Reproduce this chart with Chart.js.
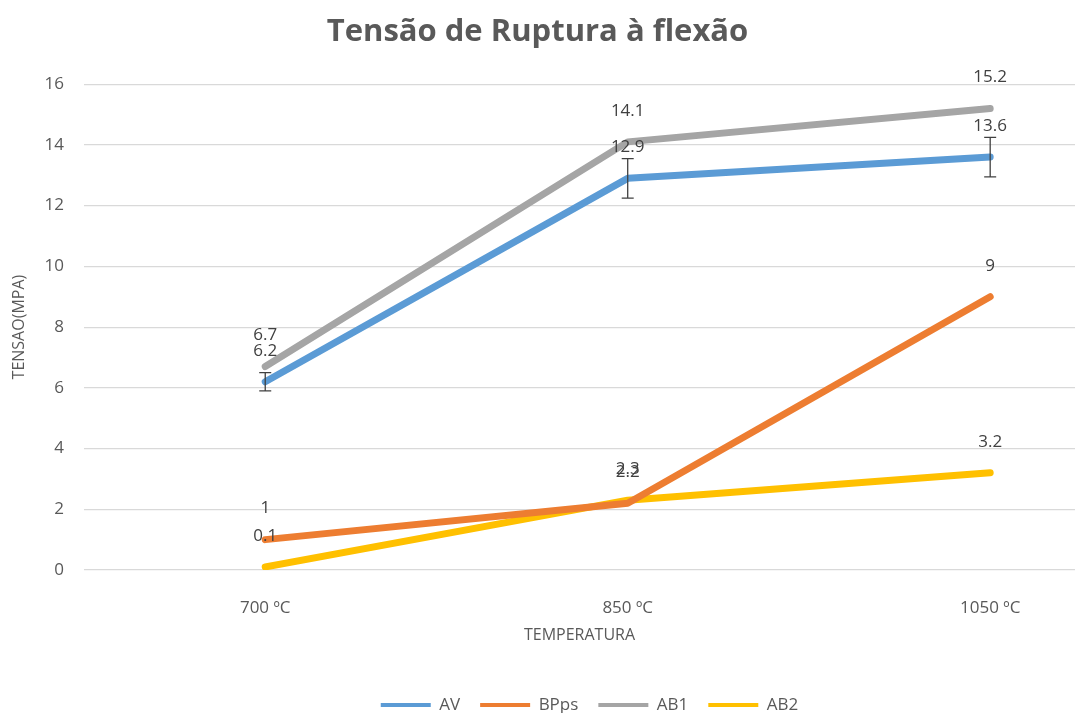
<!DOCTYPE html>
<html>
<head>
<meta charset="utf-8">
<script src="https://cdn.jsdelivr.net/npm/chart.js@4/dist/chart.umd.min.js"></script>
<style>
html,body{margin:0;padding:0;background:#fff;}
#wrap{width:1075px;height:713px;}
</style>
</head>
<body>
<div id="wrap"><canvas id="c" width="1075" height="713"></canvas></div>
<script>
const categories = ["700 ºC", "850 ºC", "1050 ºC"];
const seriesNames = ["AV", "BPps", "AB1", "AB2"];
const avValues = [6.2, 12.9, 13.6];
const bppsValues = [1, 2.2, 9];
const ab1Values = [6.7, 14.1, 15.2];
const ab2Values = [0.1, 2.3, 3.2];
const avErrors = [0.3, 0.65, 0.65];
const yTicks = [0, 2, 4, 6, 8, 10, 12, 14, 16];
const colors = ["#5B9BD5", "#ED7D31", "#A5A5A5", "#FFC000"];

const FONT = "'Open Sans', 'Noto Sans', sans-serif";
const TXT = "#595959";

function pts(arr){ return arr.map((v,i)=>({x:i, y:v})); }

const allValues = [avValues, bppsValues, ab1Values, ab2Values];
const drawOrder = [1, 3, 0, 2];
const datasets = seriesNames.map((n,i)=>({
  label: n,
  data: pts(allValues[i]),
  borderColor: colors[i],
  backgroundColor: colors[i],
  borderWidth: 7,
  pointRadius: 0,
  pointHoverRadius: 0,
  tension: 0,
  borderCapStyle: 'round',
  borderJoinStyle: 'round',
  order: drawOrder.indexOf(i)
}));

const errorBars = {
  id: 'errorBars',
  afterDatasetsDraw(chart){
    const ctx = chart.ctx;
    const xs = chart.scales.x, ys = chart.scales.y;
    ctx.save();
    ctx.strokeStyle = "#404040";
    ctx.lineWidth = 1.3;
    avValues.forEach((v,i)=>{
      const x = xs.getPixelForValue(i);
      const y1 = ys.getPixelForValue(v + avErrors[i]);
      const y2 = ys.getPixelForValue(v - avErrors[i]);
      ctx.beginPath();
      ctx.moveTo(x, y1); ctx.lineTo(x, y2);
      ctx.moveTo(x-6, y1); ctx.lineTo(x+6, y1);
      ctx.moveTo(x-6, y2); ctx.lineTo(x+6, y2);
      ctx.stroke();
    });
    ctx.restore();
  }
};

const dataLabels = {
  id: 'dataLabels',
  afterDatasetsDraw(chart){
    const ctx = chart.ctx;
    ctx.save();
    ctx.font = "17px " + FONT;
    ctx.fillStyle = "#404040";
    ctx.textAlign = "center";
    ctx.textBaseline = "middle";
    chart.data.datasets.forEach((ds, di)=>{
      const meta = chart.getDatasetMeta(di);
      meta.data.forEach((el, i)=>{
        const v = ds.data[i].y;
        ctx.fillText(String(v), el.x, el.y - 31);
      });
    });
    ctx.restore();
  }
};

const legendShift = {
  id: 'legendShift',
  afterLayout(chart){
    const lg = chart.legend;
    if (lg) { lg.left += 52; lg.right += 52; }
  }
};

new Chart(document.getElementById('c'), {
  type: 'line',
  data: { datasets: datasets },
  options: {
    responsive: false,
    animation: false,
    layout: { padding: { top: 14, right: 0, bottom: -10.5, left: 0 } },
    plugins: {
      title: {
        display: true,
        text: "Tensão de Ruptura à flexão",
        color: TXT,
        font: { family: FONT, size: 31, weight: 'bold' },
        padding: { top: 0, bottom: 33 }
      },
      legend: {
        position: 'bottom',
        labels: {
          color: TXT,
          font: { family: FONT, size: 17 },
          boxWidth: 50,
          boxHeight: 4,
          padding: 20,
          sort: (a,b)=>a.datasetIndex-b.datasetIndex,
          generateLabels: chart => Chart.defaults.plugins.legend.labels.generateLabels(chart)
            .map(l => Object.assign(l, { lineWidth: 0 }))
        }
      },
      tooltip: { enabled: false }
    },
    scales: {
      x: {
        type: 'linear',
        min: -0.5,
        max: 2.234,
        afterBuildTicks: s => { s.ticks = categories.map((c,i)=>({value:i})); },
        ticks: {
          color: TXT,
          font: { family: FONT, size: 17 },
          padding: 28,
          callback: v => categories[v]
        },
        grid: { display: false, drawTicks: false },
        border: { display: false },
        title: {
          display: true,
          text: "TEMPERATURA",
          color: TXT,
          font: { family: FONT, size: 16 },
          padding: { top: 0, bottom: 31 }
        },
        afterFit: s => { s.height = 106.5; }
      },
      y: {
        min: 0,
        max: 16,
        afterBuildTicks: s => { s.ticks = yTicks.map(v=>({value:v})); },
        ticks: {
          color: TXT,
          font: { family: FONT, size: 17 },
          padding: 20
        },
        grid: { color: "#D9D9D9", lineWidth: 1.2, drawTicks: false },
        border: { display: false },
        title: {
          display: true,
          text: "TENSAO(MPA)",
          color: TXT,
          font: { family: FONT, size: 16 },
          padding: { top: 10, bottom: 0 }
        },
        afterFit: s => { s.width = 84; }
      }
    }
  },
  plugins: [errorBars, dataLabels, legendShift]
});
</script>
</body>
</html>
